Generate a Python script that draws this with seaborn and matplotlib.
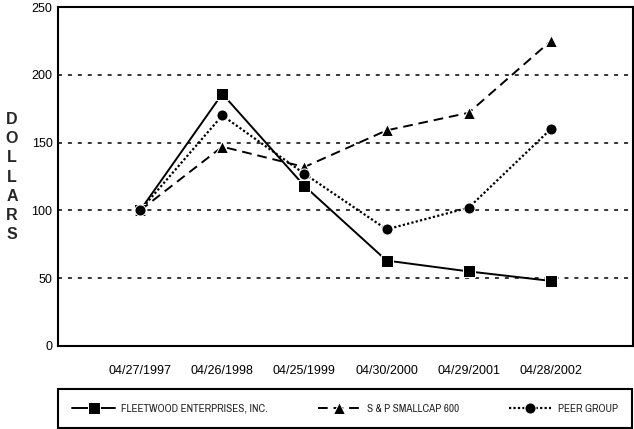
import matplotlib
matplotlib.use("Agg")
import matplotlib.pyplot as plt
import seaborn as sns
import pandas as pd

dates = ["04/27/1997", "04/26/1998", "04/25/1999", "04/30/2000", "04/29/2001", "04/28/2002"]
fleetwood = [100, 186, 118, 63, 55, 48]
smallcap = [100, 147, 132, 159, 172, 225]
peer = [100, 170, 127, 86, 102, 160]

series_names = ["FLEETWOOD ENTERPRISES, INC.", "S & P SMALLCAP 600", "PEER GROUP"]

sns.set_style("white")
plt.rcParams["font.family"] = ["Liberation Sans", "DejaVu Sans"]

fig = plt.figure(figsize=(6.34, 4.29), dpi=100)
ax = fig.add_axes([58 / 634, 1 - 346 / 429, 575 / 634, 339 / 429])

df = pd.DataFrame({"date": dates, "fleetwood": fleetwood, "smallcap": smallcap, "peer": peer})

# one call per series so each gets its own marker and dash
sns.lineplot(data=df, x="date", y="fleetwood", sort=False, ax=ax, color="black",
             marker="s", markersize=8.5, linestyle="-", linewidth=1.4,
             label=series_names[0])
sns.lineplot(data=df, x="date", y="smallcap", sort=False, ax=ax, color="black",
             marker="^", markersize=8, linestyle=(0, (5, 3)), linewidth=1.4,
             label=series_names[1])
sns.lineplot(data=df, x="date", y="peer", sort=False, ax=ax, color="black",
             marker="o", markersize=8, linestyle=(0, (1, 1)), linewidth=1.6,
             label=series_names[2])

ax.set_xlim(-1, 6)
ax.set_ylim(0, 250)
ax.set_yticks([0, 50, 100, 150, 200, 250])
ax.set_xlabel("")
ax.set_ylabel("")

for yv in [50, 100, 150, 200]:
    ax.axhline(yv, color="black", linewidth=1.1, linestyle=(0, (2.6, 3.9)), zorder=0)

for s in ax.spines.values():
    s.set_color("black")
    s.set_linewidth(1.5)

ax.tick_params(axis="x", direction="in", length=5, width=1.2, pad=14, labelsize=9, colors="black")
ax.tick_params(axis="y", length=0, pad=4, labelsize=9, colors="black")

fig.text(12 / 634, 1 - 177 / 429, "D\nO\nL\nL\nA\nR\nS", ha="center", va="center",
         fontsize=11.5, fontweight="bold", linespacing=1.35)

ax.get_legend().remove()
handles, labels = ax.get_legend_handles_labels()
leg = fig.legend(handles, labels, loc="center", ncol=3, mode="expand",
                 bbox_to_anchor=(58 / 634, 1 - 428 / 429, 574 / 634, 39 / 429),
                 prop={"family": ["Archivo Narrow", "Roboto Condensed", "PT Sans Narrow",
                                  "Liberation Sans"], "size": 8},
                 handlelength=3.8, handletextpad=0.6, columnspacing=2.5, borderpad=1.3,
                 fancybox=False, framealpha=1, edgecolor="black", borderaxespad=0)
leg.get_frame().set_linewidth(1.5)

fig.savefig("out.png", dpi=100)
